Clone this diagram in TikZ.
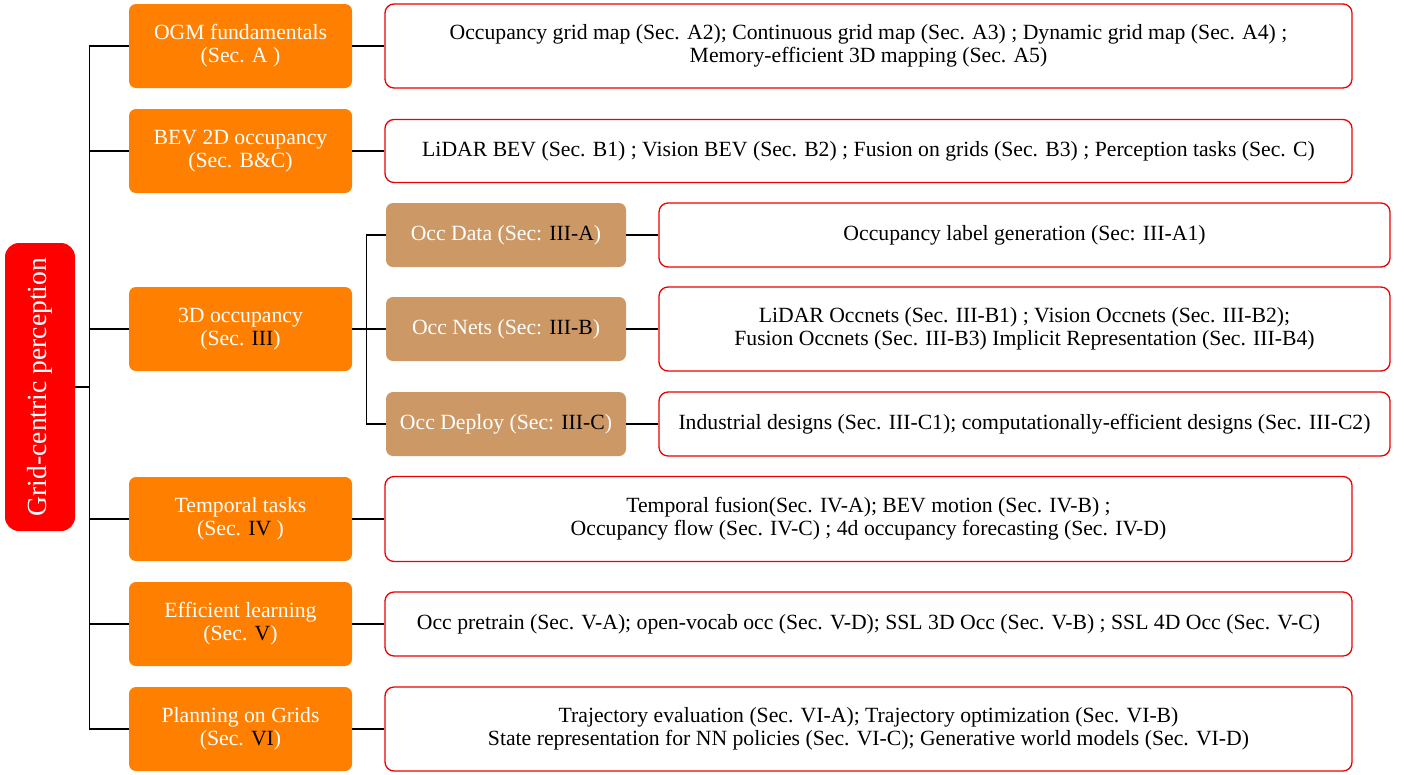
\documentclass[tikz,border=0pt]{standalone}
\usepackage{fontspec}
\setmainfont{Liberation Serif}
\usetikzlibrary{positioning}
\definecolor{catorange}{HTML}{FF8000}
\definecolor{subtan}{HTML}{CC9966}
\definecolor{rootred}{HTML}{FF0000}
\definecolor{leafred}{HTML}{EE0000}
\begin{document}
\begin{tikzpicture}[x=1pt,y=-1pt,
  every node/.style={inner sep=0pt, align=center, font=\fontsize{21.7}{23}\selectfont},
  rootbox/.style={fill=rootred, rounded corners=14pt, text=white, rotate=90,
    minimum width=288pt, minimum height=70pt, font=\fontsize{27.6}{30}\selectfont},
  catbox/.style={fill=catorange, rounded corners=7pt, text=white,
    minimum width=223pt, minimum height=84pt},
  subbox/.style={fill=subtan, rounded corners=7pt, text=white,
    minimum width=240pt, minimum height=64pt},
  leafbox/.style={draw=leafred, line width=1.3pt, rounded corners=9pt, fill=white,
    text=black, minimum width=967pt},
  subleaf/.style={leafbox, minimum width=731pt},
  link/.style={draw=black, line width=1.2pt}
]
\useasboundingbox (0,0) rectangle (1404,774);

\node[rootbox] (root) at (40,387) {Grid-centric perception};

\node[catbox] (c1) at (240.5,46) {OGM fundamentals\\(Sec. A )};
\node[catbox] (c2) at (240.5,151) {BEV 2D occupancy\\(Sec. B\&C)};
\node[catbox] (c3) at (240.5,329) {3D occupancy\\(Sec. \textcolor{black}{III})};
\node[catbox] (c4) at (240.5,519) {Temporal tasks\\(Sec. \textcolor{black}{IV} )};
\node[catbox] (c5) at (240.5,624) {Efficient learning\\(Sec. \textcolor{black}{V})};
\node[catbox] (c6) at (240.5,729) {Planning on Grids\\(Sec. \textcolor{black}{VI})};

\node[leafbox, minimum height=84pt] (l1) at (868.5,46) {Occupancy grid map (Sec. A2); Continuous grid map (Sec. A3) ; Dynamic grid map (Sec. A4) ;\\Memory-efficient 3D mapping (Sec. A5)};
\node[leafbox, minimum height=63pt] (l2) at (868.5,151) {LiDAR BEV (Sec. B1) ; Vision BEV (Sec. B2) ; Fusion on grids (Sec. B3) ; Perception tasks (Sec. C)};
\node[leafbox, minimum height=85pt] (l4) at (868.5,519) {Temporal fusion(Sec. IV-A); BEV motion (Sec. IV-B) ;\\Occupancy flow (Sec. IV-C) ; 4d occupancy forecasting (Sec. IV-D)};
\node[leafbox, minimum height=64pt] (l5) at (868.5,624) {Occ pretrain (Sec. V-A); open-vocab occ (Sec. V-D); SSL 3D Occ (Sec. V-B) ; SSL 4D Occ (Sec. V-C)};
\node[leafbox, minimum height=84pt] (l6) at (868.5,729) {Trajectory evaluation (Sec. VI-A); Trajectory optimization (Sec. VI-B)\\State representation for NN policies (Sec. VI-C); Generative world models (Sec. VI-D)};

\node[subbox] (s1) at (506,235) {Occ Data (Sec: \textcolor{black}{III-A})};
\node[subbox] (s2) at (506,329) {Occ Nets (Sec: \textcolor{black}{III-B})};
\node[subbox] (s3) at (506,424) {Occ Deploy (Sec: \textcolor{black}{III-C})};

\node[subleaf, minimum height=64pt] (t1) at (1024.5,235) {Occupancy label generation (Sec: III-A1)};
\node[subleaf, minimum height=84pt] (t2) at (1024.5,329) {LiDAR Occnets (Sec. III-B1) ; Vision Occnets (Sec. III-B2);\\Fusion Occnets (Sec. III-B3) Implicit Representation (Sec. III-B4)};
\node[subleaf, minimum height=64pt] (t3) at (1024.5,424) {Industrial designs (Sec. III-C1); computationally-efficient designs (Sec. III-C2)};

\foreach \c in {c1,c2,c3,c4,c5,c6}
  \draw[link] (root.south) -- ++(14,0) |- (\c.west);
\foreach \s in {s1,s2,s3}
  \draw[link] (c3.east) -- ++(14,0) |- (\s.west);
\draw[link] (c1.east) -- (l1.west);
\draw[link] (c2.east) -- (l2.west);
\draw[link] (c4.east) -- (l4.west);
\draw[link] (c5.east) -- (l5.west);
\draw[link] (c6.east) -- (l6.west);
\draw[link] (s1.east) -- (t1.west);
\draw[link] (s2.east) -- (t2.west);
\draw[link] (s3.east) -- (t3.west);
\end{tikzpicture}
\end{document}
